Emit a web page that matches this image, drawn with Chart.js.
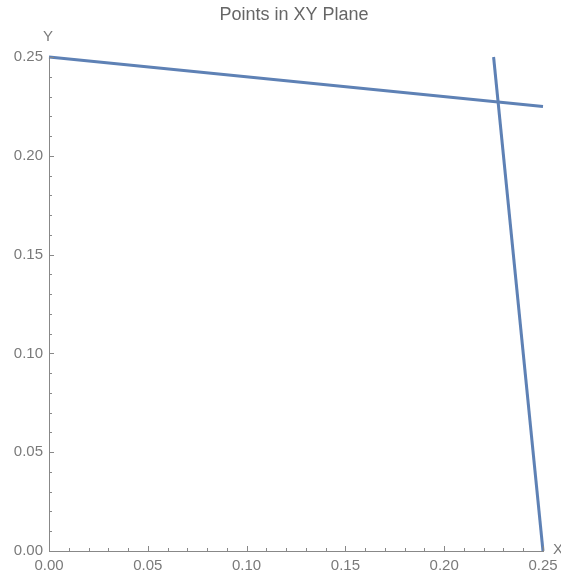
<!DOCTYPE html>
<html>
<head>
<meta charset="utf-8">
<title>Points in XY Plane</title>
<script src="https://cdn.jsdelivr.net/npm/chart.js@4/dist/chart.umd.min.js"></script>
<style>
  html, body { margin: 0; padding: 0; background: #fff; }
  #wrap { width: 561px; height: 575px; }
</style>
</head>
<body>
<div id="wrap"><canvas id="plane"></canvas></div>
<script>
// segment endpoints
const firstLineX = [0.0, 0.25];
const firstLineY = [0.25, 0.225];
const secondLineX = [0.225, 0.25];
const secondLineY = [0.25, 0.0];

const tickValues = [0.0, 0.05, 0.10, 0.15, 0.20, 0.25];
const minorStep = 0.01;

const lineColor = '#5e81b5';
const axisColor = '#888888';
const labelColor = '#7a7a7a';
const fontFamily = '"Liberation Sans", Arial, sans-serif';

function toPoints(xs, ys) {
    return xs.map((x, i) => ({ x: x, y: ys[i] }));
}

// mathematica style ticks pointing into the plot, plus the X / Y labels and title
const framePlugin = {
    id: 'frame',
    afterDraw(chart) {
        const ctx = chart.ctx;
        const xs = chart.scales.x;
        const ys = chart.scales.y;
        const area = chart.chartArea;
        ctx.save();
        ctx.strokeStyle = axisColor;
        ctx.lineWidth = 1;
        for (let i = 0; i <= 25; i++) {
            const v = i * minorStep;
            const len = (i % 5 === 0) ? 5 : 3;
            const px = Math.round(xs.getPixelForValue(v)) + 0.5;
            const py = Math.round(ys.getPixelForValue(v)) + 0.5;
            ctx.beginPath();
            ctx.moveTo(px, area.bottom);
            ctx.lineTo(px, area.bottom - len);
            ctx.moveTo(area.left, py);
            ctx.lineTo(area.left + len, py);
            ctx.stroke();
        }
        ctx.fillStyle = labelColor;
        ctx.font = '15px ' + fontFamily;
        ctx.textBaseline = 'middle';
        ctx.textAlign = 'center';
        ctx.fillText('Y', area.left - 1, area.top - 20);
        ctx.textAlign = 'left';
        ctx.fillText('X', area.right + 10, area.bottom - 1);

        ctx.fillStyle = '#666666';
        ctx.font = '18px ' + fontFamily;
        ctx.textAlign = 'center';
        ctx.fillText('Points in XY Plane', (area.left + area.right) / 2 - 2, 15);
        ctx.restore();
    }
};

new Chart(document.getElementById('plane'), {
    type: 'scatter',
    data: {
        datasets: [
            {
                data: toPoints(firstLineX, firstLineY),
                showLine: true,
                borderColor: lineColor,
                borderWidth: 3,
                pointRadius: 0,
                clip: false
            },
            {
                data: toPoints(secondLineX, secondLineY),
                showLine: true,
                borderColor: lineColor,
                borderWidth: 3,
                pointRadius: 0,
                clip: false
            }
        ]
    },
    options: {
        responsive: true,
        maintainAspectRatio: false,
        animation: false,
        layout: { padding: { top: 57, right: 18, left: 0, bottom: 0 } },
        plugins: {
            legend: { display: false },
            tooltip: { enabled: false },
            title: { display: false }
        },
        scales: {
            x: {
                type: 'linear',
                min: 0,
                max: 0.25,
                afterBuildTicks(scale) {
                    scale.ticks = tickValues.map(v => ({ value: v }));
                },
                afterFit(scale) {
                    scale.height = 24;
                    scale.paddingLeft = 0;
                    scale.paddingRight = 0;
                },
                grid: { display: false, drawTicks: false },
                border: { display: true, color: axisColor, width: 1 },
                ticks: {
                    autoSkip: false,
                    maxRotation: 0,
                    padding: 6,
                    color: labelColor,
                    font: { family: fontFamily, size: 15 },
                    callback: v => v.toFixed(2)
                }
            },
            y: {
                type: 'linear',
                min: 0,
                max: 0.25,
                afterBuildTicks(scale) {
                    scale.ticks = tickValues.map(v => ({ value: v }));
                },
                afterFit(scale) {
                    scale.width = 49;
                    scale.paddingTop = 0;
                    scale.paddingBottom = 0;
                },
                grid: { display: false, drawTicks: false },
                border: { display: true, color: axisColor, width: 1 },
                ticks: {
                    autoSkip: false,
                    padding: 6,
                    color: labelColor,
                    font: { family: fontFamily, size: 15 },
                    callback: v => v.toFixed(2)
                }
            }
        }
    },
    plugins: [framePlugin]
});
</script>
</body>
</html>
